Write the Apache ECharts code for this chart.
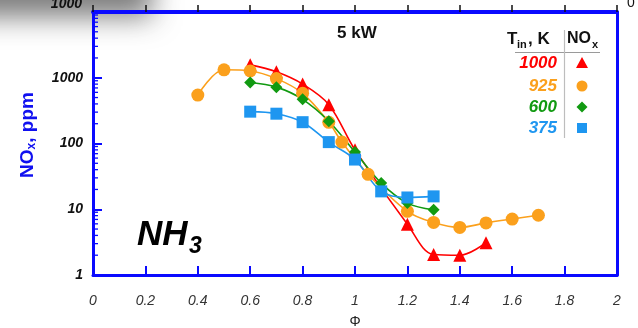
<!DOCTYPE html>
<html><head><meta charset="utf-8">
<script src="https://cdn.jsdelivr.net/npm/echarts@6/dist/echarts.min.js"></script>
<style>html,body{margin:0;padding:0;background:#fff}#c{width:638px;height:328px}</style>
</head><body><div id="c"></div>
<script>
// ---- data ----
const seriesNames = ['1000', '925', '600', '375'];
const phi1000 = [0.6, 0.7, 0.8, 0.9, 1.0, 1.2, 1.3, 1.4, 1.5];
const nox1000 = [1570, 1230, 800, 390, 80, 5.9, 2.05, 2.0, 3.1];
const phi925 = [0.4, 0.5, 0.6, 0.7, 0.8, 0.9, 0.95, 1.05, 1.2, 1.3, 1.4, 1.5, 1.6, 1.7];
const nox925 = [545, 1320, 1270, 970, 580, 210, 105, 34, 9.3, 6.3, 5.3, 6.2, 7.1, 8.1];
const phi600 = [0.6, 0.7, 0.8, 0.9, 1.0, 1.1, 1.2, 1.3];
const nox600 = [845, 720, 470, 218, 74, 25, 12.4, 9.8];
const phi375 = [0.6, 0.7, 0.8, 0.9, 1.0, 1.1, 1.2, 1.3];
const nox375 = [305, 284, 211, 105, 57, 18.7, 15.1, 15.7];
const xTicks = [0, 0.2, 0.4, 0.6, 0.8, 1, 1.2, 1.4, 1.6, 1.8, 2];
const yTicks = [1, 10, 100, 1000, 10000];

const colors = ['#ff0000', '#fba01c', '#119a11', '#1e96f0'];
const symbols = ['triangle', 'circle', 'diamond', 'rect'];
const symbolSizes = [13, 13, 12, 12];
const AX = '#0a0aff';
const FONT = 'Arial, "Liberation Sans", Helvetica, sans-serif';

function pts(xs, ys) { return xs.map((x, i) => [x, ys[i]]); }
const allData = [pts(phi1000, nox1000), pts(phi925, nox925), pts(phi600, nox600), pts(phi375, nox375)];

const chart = echarts.init(document.getElementById('c'), null, {renderer: 'canvas'});
const option = {
  animation: false,
  backgroundColor: '#ffffff',
  grid: {left: 93, right: 21, top: 12, bottom: 53, containLabel: false, outerBoundsMode: 'none'},
  xAxis: [{
    type: 'value', min: xTicks[0], max: xTicks[xTicks.length - 1], interval: 0.2, position: 'bottom',
    axisLine: {onZero: false, lineStyle: {color: AX, width: 3}},
    axisTick: {inside: true, length: 9, lineStyle: {color: AX, width: 2}},
    axisLabel: {margin: 19, fontFamily: FONT, fontStyle: 'italic', fontSize: 14, color: '#333',
      formatter: v => String(Math.round(v * 10) / 10)},
    splitLine: {show: false},
    name: 'Φ', nameLocation: 'middle', nameGap: 40,
    nameTextStyle: {fontFamily: FONT, fontSize: 14, color: '#222'}
  }, {
    type: 'value', min: xTicks[0], max: xTicks[xTicks.length - 1], interval: 0.2, position: 'top',
    axisLine: {onZero: false, lineStyle: {color: AX, width: 4}},
    axisTick: {inside: false, length: 7, lineStyle: {color: '#111', width: 1.5}},
    axisLabel: {show: false}, splitLine: {show: false}
  }],
  yAxis: [{
    type: 'log', logBase: 10, min: yTicks[0], max: yTicks[yTicks.length - 1],
    axisLine: {onZero: false, lineStyle: {color: AX, width: 3}},
    axisTick: {inside: true, length: 9, lineStyle: {color: AX, width: 2}},
    axisLabel: {margin: 10, fontFamily: FONT, fontStyle: 'italic', fontWeight: 'bold', fontSize: 14, color: '#111',
      formatter: v => (v >= 10000 ? '' : String(Math.round(v)))},
    splitLine: {show: false}
  }, {
    type: 'log', logBase: 10, min: yTicks[0], max: yTicks[yTicks.length - 1], position: 'right',
    axisLine: {onZero: false, lineStyle: {color: AX, width: 3}},
    axisTick: {show: false}, axisLabel: {show: false}, splitLine: {show: false}
  }],
  series: seriesNames.map((n, i) => ({
    name: n, type: 'line', data: allData[i], smooth: 0.35,
    symbol: symbols[i], symbolSize: symbolSizes[i], showAllSymbol: true,
    lineStyle: {color: colors[i], width: 1.6},
    itemStyle: {color: colors[i]},
    xAxisIndex: 0, yAxisIndex: 0
  }))
};
chart.setOption(option);

// decorations
const g = [];
// soft gray shadow at top left (shape sits off-canvas, only its blurred shadow shows)
g.push({type: 'rect', shape: {x: -60, y: -130, width: 212, height: 47},
  style: {fill: '#777', shadowBlur: 28, shadowOffsetY: 100, shadowColor: 'rgba(110,110,110,0.9)'}, z: 0, silent: true});
g.push({type: 'text', x: 82, y: 4, style: {text: '1000', fontFamily: FONT, fontStyle: 'italic', fontWeight: 'bold', fontSize: 14, fill: '#111', align: 'right', verticalAlign: 'middle'}, z: 5});
g.push({type: 'text', x: 631, y: 3, style: {text: '0', fontFamily: FONT, fontSize: 14, fill: '#111', align: 'center', verticalAlign: 'middle'}, z: 5});
// y axis name
g.push({type: 'text', x: 28, y: 135, rotation: Math.PI / 2, style: {
  text: '{a|NO}{s|x}{a|, ppm}', align: 'center', verticalAlign: 'middle',
  rich: {
    a: {fontFamily: FONT, fontWeight: 'bold', fontSize: 19, fill: '#1010f0', color: '#1010f0'},
    s: {fontFamily: FONT, fontWeight: 'bold', fontSize: 12, fill: '#1010f0', color: '#1010f0', padding: [7, 0, 0, 0]}
  }}, z: 20});
// minor log ticks on left axis
const x0 = chart.convertToPixel({xAxisIndex: 0}, 0);
for (let d = 1; d < 10000; d *= 10) {
  for (let k = 2; k <= 9; k++) {
    const y = chart.convertToPixel({yAxisIndex: 0}, d * k);
    g.push({type: 'line', shape: {x1: x0, y1: y, x2: x0 + 5, y2: y}, style: {stroke: AX, lineWidth: 1.3}, z: 10, silent: true});
  }
}
// title text
g.push({type: 'text', x: 337, y: 33, style: {text: '5 kW', fontFamily: FONT, fontWeight: 'bold', fontSize: 17, fill: '#111', verticalAlign: 'middle'}, z: 20});
// NH3
g.push({type: 'text', x: 137, y: 235, style: {text: 'NH', fontFamily: FONT, fontWeight: 'bold', fontStyle: 'italic', fontSize: 35, fill: '#000', verticalAlign: 'middle'}, z: 20});
g.push({type: 'text', x: 189, y: 247, style: {text: '3', fontFamily: FONT, fontWeight: 'bold', fontStyle: 'italic', fontSize: 23, fill: '#000', verticalAlign: 'middle'}, z: 20});
// legend table
const hdr = {fontFamily: FONT, fontWeight: 'bold', fontSize: 17, fill: '#111', verticalAlign: 'middle'};
g.push({type: 'text', x: 507, y: 39, style: Object.assign({}, hdr, {text: 'T'})});
g.push({type: 'text', x: 517, y: 45, style: Object.assign({}, hdr, {text: 'in', fontSize: 11})});
g.push({type: 'text', x: 528, y: 39, style: Object.assign({}, hdr, {text: ', K'})});
g.push({type: 'text', x: 567, y: 39, style: Object.assign({}, hdr, {text: 'NO', fontSize: 16})});
g.push({type: 'text', x: 592, y: 45, style: Object.assign({}, hdr, {text: 'x', fontSize: 11})});
g.push({type: 'line', shape: {x1: 515, y1: 52.5, x2: 600, y2: 52.5}, style: {stroke: '#9a9a9a', lineWidth: 1}});
g.push({type: 'line', shape: {x1: 564.5, y1: 30, x2: 564.5, y2: 138}, style: {stroke: '#bdbdbd', lineWidth: 1.2}});
const rowY = [63, 86, 107, 128];
seriesNames.forEach((n, i) => {
  g.push({type: 'text', x: 557, y: rowY[i], style: {text: n, fontFamily: FONT, fontWeight: 'bold', fontStyle: 'italic', fontSize: 17, fill: colors[i], align: 'right', verticalAlign: 'middle'}, z: 20});
});
const mx = 582;
g.push({type: 'polygon', shape: {points: [[mx, rowY[0] - 6], [mx - 6, rowY[0] + 5], [mx + 6, rowY[0] + 5]]}, style: {fill: colors[0]}, z: 20});
g.push({type: 'circle', shape: {cx: mx, cy: rowY[1], r: 5.5}, style: {fill: colors[1]}, z: 20});
g.push({type: 'polygon', shape: {points: [[mx, rowY[2] - 5.5], [mx + 5.5, rowY[2]], [mx, rowY[2] + 5.5], [mx - 5.5, rowY[2]]]}, style: {fill: colors[2]}, z: 20});
g.push({type: 'rect', shape: {x: mx - 5, y: rowY[3] - 5, width: 10, height: 10}, style: {fill: colors[3]}, z: 20});

chart.setOption({graphic: {elements: g}});
</script>
</body></html>
